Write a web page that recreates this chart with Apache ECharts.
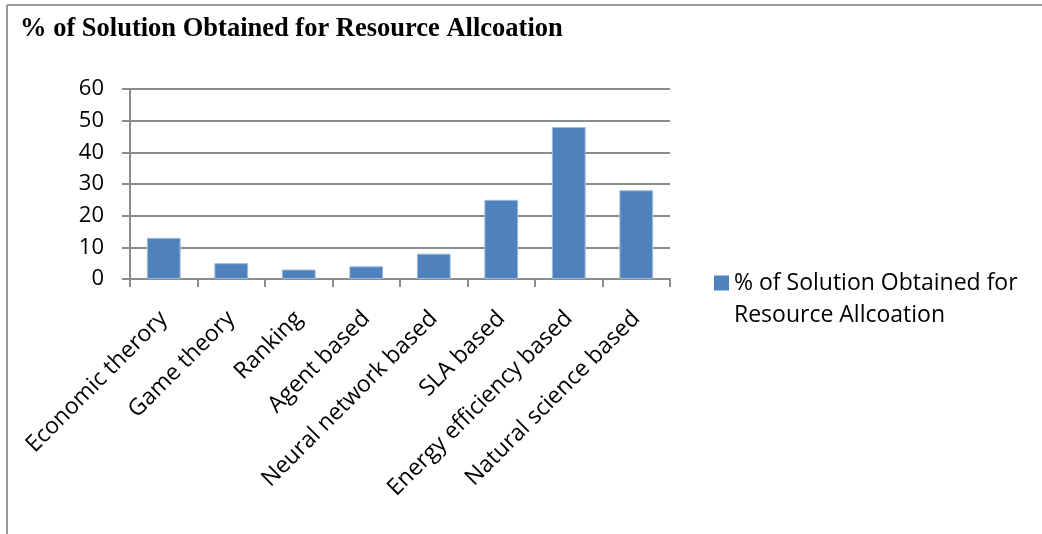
<!DOCTYPE html>
<html><head><meta charset="utf-8">
<script src="https://cdn.jsdelivr.net/npm/echarts@6/dist/echarts.min.js"></script>
<style>html,body{margin:0;padding:0;background:#fff}#c{width:1042px;height:534px}</style>
</head><body><div id="c"></div>
<script>
const categories = ['Economic therory','Game theory','Ranking','Agent based','Neural network based','SLA based','Energy efficiency based','Natural science based'];
const values = [13, 5, 3, 4, 8, 25, 48, 28];
const seriesName = '% of Solution Obtained for\nResource Allcoation';
const titleText = '% of Solution Obtained for Resource Allcoation';
const yTicks = {min: 0, max: 60, interval: 10};

const chart = echarts.init(document.getElementById('c'));
const axisGray = '#8c8c8c';
const font = '"Open Sans", sans-serif';
chart.setOption({
  animation: false,
  backgroundColor: '#fff',
  title: {text: titleText, left: 20, top: 16, padding: 0,
    textStyle: {fontFamily: '"Liberation Serif", "Times New Roman", serif', fontWeight: 'bold', fontSize: 26.5, color: '#000'}},
  graphic: [
    {type: 'line', shape: {x1: 7, y1: 5, x2: 1042, y2: 5}, style: {stroke: '#999', lineWidth: 2}},
    {type: 'line', shape: {x1: 7, y1: 5, x2: 7, y2: 534}, style: {stroke: '#999', lineWidth: 2}}
  ],
  legend: {left: 714, top: 267, padding: 0, itemWidth: 15, itemHeight: 47,
    icon: 'path://M0,0h15v15h-15z M0,47h0.01v0.01h-0.01z',
    itemStyle: {color: '#4f81bd', borderWidth: 0},
    textStyle: {fontFamily: font, fontSize: 23, color: '#000', lineHeight: 32}},
  grid: {left: 130, right: 372, top: 89, bottom: 255, containLabel: false},
  xAxis: {type: 'category', data: categories,
    axisLine: {lineStyle: {color: axisGray, width: 2}},
    axisTick: {show: true, length: 8, lineStyle: {color: axisGray, width: 2}, alignWithLabel: false},
    axisLabel: {rotate: 45, interval: 0, margin: 36, fontFamily: font, fontSize: 23, color: '#000'}},
  yAxis: {type: 'value', min: yTicks.min, max: yTicks.max, interval: yTicks.interval,
    axisLine: {show: true, lineStyle: {color: axisGray, width: 2}},
    axisTick: {show: true, length: 8, lineStyle: {color: axisGray, width: 2}},
    splitLine: {lineStyle: {color: axisGray, width: 2}},
    axisLabel: {margin: 26, fontFamily: font, fontSize: 22, color: '#000'}},
  series: [{type: 'bar', name: seriesName, data: values, barWidth: '50%',
    itemStyle: {color: '#4f81bd', borderColor: '#9db8dc', borderWidth: 1}}]
});
</script></body></html>
